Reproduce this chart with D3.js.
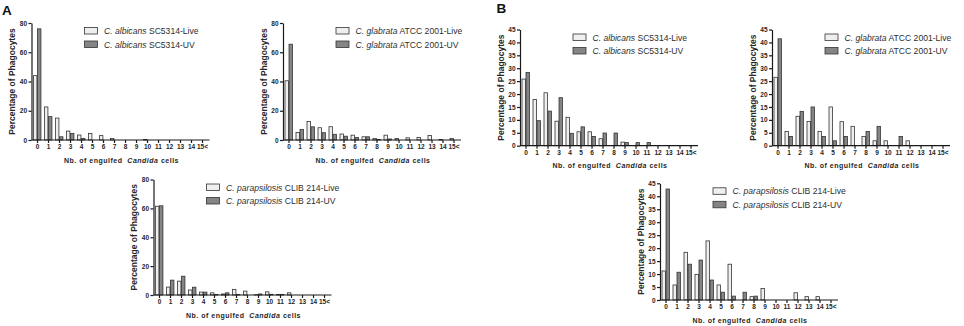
<!DOCTYPE html>
<html>
<head>
<meta charset="utf-8">
<script src="https://cdn.jsdelivr.net/npm/d3@7"></script>
<style>
  body { margin: 0; background: #fff; }
  svg { display: block; }
</style>
</head>
<body>
<svg id="chart"></svg>
<script>
const width = 964;
const height = 326;

// categories on the x axis
const cats = ["0", "1", "2", "3", "4", "5", "6", "7", "8", "9", "10", "11", "12", "13", "14", "15<"];
const series = ["Live", "UV"];

// panel A (percent of phagocytes)
const aAlbicansLive = [44, 22.6, 15, 6.1, 3.4, 4.5, 3, 1, 0, 0, 0.3, 0, 0, 0, 0, 0];
const aAlbicansUV = [76, 16, 2.2, 4.4, 1, 0, 0, 0, 0, 0, 0, 0, 0, 0, 0, 0];
const aGlabrataLive = [40.5, 5.2, 12.6, 8.4, 9.1, 4.1, 3.3, 2.2, 1, 3.3, 1, 1.5, 1.7, 3.1, 0.3, 1.1];
const aGlabrataUV = [65.5, 7.2, 9, 5, 3.9, 2.6, 1.7, 2.2, 0.4, 0.7, 0, 0, 0, 0, 0, 0];
const aParapsilosisLive = [61.5, 5.5, 9.6, 3.5, 2, 1.5, 0.7, 3.9, 2.7, 0.2, 2.2, 0.3, 1.5, 0, 0, 0];
const aParapsilosisUV = [61.8, 10.3, 13, 5.4, 2, 0.4, 1.5, 0.4, 0, 0.7, 0.5, 0.3, 0, 0, 0, 0];

// panel B
const bAlbicansLive = [25.8, 17.9, 20.5, 9.5, 11, 5.4, 5.4, 2.7, 0, 1.4, 0, 0, 0, 0, 0, 0];
const bAlbicansUV = [28.4, 9.7, 13.4, 18.6, 4.8, 7.3, 3.6, 4.9, 4.9, 1.2, 1.2, 1.2, 0, 0, 0, 0];
const bGlabrataLive = [26.5, 5.5, 11.4, 9.4, 5.5, 15, 9.3, 7.5, 3.6, 1.9, 1.9, 0, 1.9, 0, 0, 0];
const bGlabrataUV = [41.4, 3.6, 13.3, 15, 3.6, 1.9, 3.6, 0, 5.5, 7.5, 0, 3.6, 0, 0, 0, 0];
const bParapsilosisLive = [11.2, 5.8, 18.4, 9.9, 22.8, 5.8, 13.8, 0, 1.3, 4.4, 0, 0, 2.8, 1.3, 1.3, 0];
const bParapsilosisUV = [42.8, 10.7, 13.8, 15.4, 7.7, 3, 1.5, 3, 1.5, 0, 0, 0, 0, 0, 0, 0];

// y axis ticks and legend names
const aTicks = [0, 20, 40, 60, 80];
const bTicks = [0, 5, 10, 15, 20, 25, 30, 35, 40, 45];
const species = ["C. albicans", "C. glabrata", "C. parapsilosis"];
const strains = ["SC5314", "ATCC 2001", "CLIB 214"];

const fillColor = { Live: "#efefef", UV: "#858585" };
const strokeColor = "#333";
const textColor = "#262626";

const svg = d3.select("#chart")
    .attr("width", width)
    .attr("height", height)
    .attr("font-family", "Liberation Sans, Arial, Helvetica, sans-serif");

const panels = [
    { ax: 31.5, y0: 140, yTop: 23, ticks: aTicks, sp: 0, live: aAlbicansLive, uv: aAlbicansUV },
    { ax: 283, y0: 140, yTop: 23, ticks: aTicks, sp: 1, live: aGlabrataLive, uv: aGlabrataUV },
    { ax: 153.5, y0: 295, yTop: 179.5, ticks: aTicks, sp: 2, live: aParapsilosisLive, uv: aParapsilosisUV },
    { ax: 520, y0: 145.7, yTop: 29.5, ticks: bTicks, sp: 0, live: bAlbicansLive, uv: bAlbicansUV },
    { ax: 772, y0: 145.7, yTop: 29.5, ticks: bTicks, sp: 1, live: bGlabrataLive, uv: bGlabrataUV },
    { ax: 660, y0: 300, yTop: 183.3, ticks: bTicks, sp: 2, live: bParapsilosisLive, uv: bParapsilosisUV }
];

function drawPanel(p) {
    const g = svg.append("g");
    const step = 11;
    const padIn = 0.27;

    const x = d3.scaleBand()
        .domain(cats)
        .range([p.ax + 2, p.ax + 2 + step * (cats.length - padIn)])
        .paddingInner(padIn)
        .paddingOuter(0);
    const xs = d3.scaleBand().domain(series).range([0, x.bandwidth()]);
    const y = d3.scaleLinear()
        .domain([0, d3.max(p.ticks)])
        .range([p.y0, p.yTop]);

    // bars
    const rows = [];
    cats.forEach((c, i) => {
        rows.push({ cat: c, s: "Live", v: p.live[i] });
        rows.push({ cat: c, s: "UV", v: p.uv[i] });
    });
    g.append("g").selectAll("rect")
        .data(rows.filter(d => d.v > 0)).enter()
        .append("rect")
        .attr("x", d => x(d.cat) + xs(d.s))
        .attr("y", d => y(d.v))
        .attr("width", xs.bandwidth() - 0.6)
        .attr("height", d => y(0) - y(d.v))
        .attr("fill", d => fillColor[d.s])
        .attr("stroke", strokeColor)
        .attr("stroke-width", 0.8);

    // x axis
    const xAxis = g.append("g")
        .attr("transform", "translate(0," + p.y0 + ")")
        .call(d3.axisBottom(x).tickSize(3).tickSizeOuter(0).tickPadding(1.5));
    xAxis.select(".domain").attr("d", "M" + p.ax + ",0H" + (p.ax + 178));

    // y axis
    const yAxis = g.append("g")
        .attr("transform", "translate(" + p.ax + ",0)")
        .call(d3.axisLeft(y).tickValues(p.ticks).tickSize(3).tickSizeOuter(0).tickPadding(1.5));

    [xAxis, yAxis].forEach(a => {
        a.attr("font-family", null).attr("font-size", null);
        a.selectAll(".domain, .tick line").attr("stroke", "#1a1a1a").attr("stroke-width", 1.2);
        a.selectAll("text")
            .attr("font-size", 6.5)
            .attr("font-weight", "bold")
            .attr("fill", textColor);
    });

    // axis titles
    const xt = g.append("text")
        .attr("x", p.ax + 90)
        .attr("y", p.y0 + 22.5)
        .attr("text-anchor", "middle")
        .attr("font-size", 7)
        .attr("font-weight", "bold")
        .attr("letter-spacing", 0.5)
        .attr("fill", textColor);
    xt.append("tspan").text("Nb. of engulfed\u00a0 ");
    xt.append("tspan").attr("font-style", "italic").text("Candida");
    xt.append("tspan").text(" cells");

    g.append("text")
        .attr("transform", "translate(" + (p.ax - 19) + "," + ((p.y0 + p.yTop) / 2) + ") rotate(-90)")
        .attr("dy", "0.35em")
        .attr("text-anchor", "middle")
        .attr("font-size", 8.5)
        .attr("font-weight", "bold")
        .attr("fill", textColor)
        .text("Percentage of Phagocytes");

    // legend
    const legend = g.append("g")
        .attr("transform", "translate(" + (p.ax + 53) + "," + p.yTop + ")");
    legend.selectAll("rect").data(series).enter()
        .append("rect")
        .attr("x", 0)
        .attr("y", (d, i) => 4.5 + i * 13.5)
        .attr("width", 13)
        .attr("height", 6.5)
        .attr("fill", d => fillColor[d])
        .attr("stroke", strokeColor)
        .attr("stroke-width", 0.8);
    const lt = legend.selectAll("text").data(series).enter()
        .append("text")
        .attr("x", 19.5)
        .attr("y", (d, i) => 11 + i * 13.5)
        .attr("font-size", 8.6)
        .attr("fill", "#2e2e2e");
    lt.append("tspan").attr("font-style", "italic").text(species[p.sp]);
    lt.append("tspan").text(d => " " + strains[p.sp] + "-" + d);
}

panels.forEach(drawPanel);

// panel letters
svg.append("text").attr("x", 2).attr("y", 14.5)
    .attr("font-size", 13.5).attr("font-weight", "bold").attr("fill", "#111").text("A");
svg.append("text").attr("x", 496.5).attr("y", 13.3)
    .attr("font-size", 13.5).attr("font-weight", "bold").attr("fill", "#111").text("B");
</script>
</body>
</html>
